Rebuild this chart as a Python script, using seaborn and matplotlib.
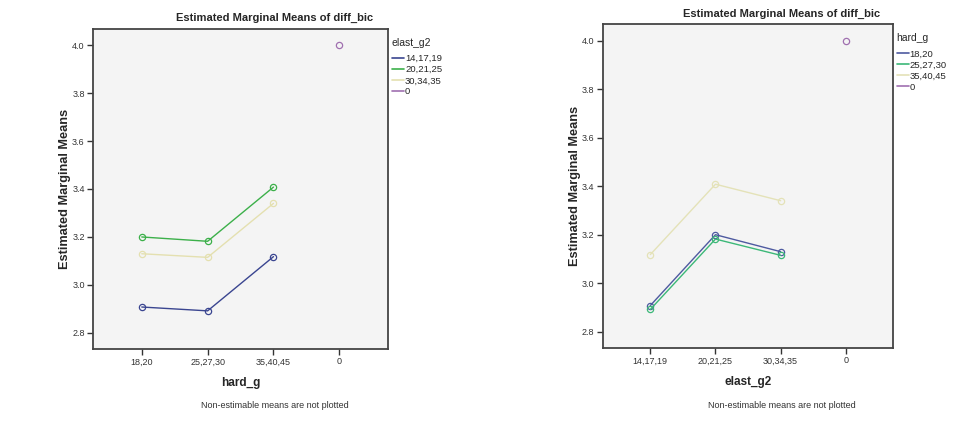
import matplotlib
matplotlib.use("Agg")
import matplotlib.pyplot as plt
from matplotlib.lines import Line2D
import seaborn as sns
import pandas as pd

# ---- data ----
hard_levels = ["18,20", "25,27,30", "35,40,45", "0"]
elast_levels = ["14,17,19", "20,21,25", "30,34,35", "0"]
# rows: hard_g, cols: elast_g2
m_18_20 = [2.908, 3.200, 3.130]
m_25_27_30 = [2.892, 3.182, 3.115]
m_35_40_45 = [3.118, 3.408, 3.340]
m_0_0 = 4.0

left_colors = ["#3a4590", "#3cb04a", "#e4e0b0", "#a070b0"]
right_colors = ["#4e5aa0", "#3cb878", "#e4e2b8", "#a070b0"]

yticks = [2.8, 3.0, 3.2, 3.4, 3.6, 3.8, 4.0]

grid = [m_18_20, m_25_27_30, m_35_40_45]

# left: x = hard_g, hue = elast_g2
rows = []
for j, e in enumerate(elast_levels[:3]):
    for i, h in enumerate(hard_levels[:3]):
        rows.append({"x": h, "y": grid[i][j], "g": e})
rows.append({"x": "0", "y": m_0_0, "g": "0"})
df_left = pd.DataFrame(rows)

rows = []
for i, h in enumerate(hard_levels[:3]):
    for j, e in enumerate(elast_levels[:3]):
        rows.append({"x": e, "y": grid[i][j], "g": h})
rows.append({"x": "0", "y": m_0_0, "g": "0"})
df_right = pd.DataFrame(rows)

sns.set_style("white")
plt.rcParams["font.family"] = ["Liberation Sans", "DejaVu Sans"]

fig = plt.figure(figsize=(9.67, 4.24), dpi=100)
ax1 = fig.add_axes([0.0962, 0.1769, 0.3051, 0.7547])
ax2 = fig.add_axes([0.6233, 0.1792, 0.2999, 0.7635])

narrow = ["Liberation Sans Narrow", "Liberation Sans", "DejaVu Sans"]


def draw(ax, df, levels, hue_levels, colors, xlabel, legtitle, xlim, title_x, title_y,
         leg_anchor, ylab_x):
    pal = dict(zip(hue_levels, colors))
    sns.lineplot(data=df, x="x", y="y", hue="g", hue_order=hue_levels, palette=pal,
                 marker="o", markersize=4.5, linewidth=1.0, sort=False,
                 legend=False, ax=ax)
    for ln in ax.lines:
        ln.set_markerfacecolor("none")
        ln.set_markeredgecolor(ln.get_color())
        ln.set_markeredgewidth(0.9)
    ax.set_facecolor("#f4f4f4")
    ax.set_xlim(*xlim)
    ax.set_ylim(2.733, 4.067)
    ax.set_yticks(yticks)
    ax.set_yticklabels([f"{t:.1f}" for t in yticks], family=narrow, fontsize=6.5, color="#333333")
    ax.set_xticks(range(4))
    ax.set_xticklabels(levels, family=narrow, fontsize=6.5, color="#333333")
    ax.tick_params(axis="both", which="both", direction="out", length=4, width=1,
                   color="#333333", left=True, bottom=True, pad=2)
    for s in ax.spines.values():
        s.set_color("#444444")
        s.set_linewidth(1.3)
    ax.set_xlabel(xlabel, fontsize=8.5, fontweight="bold", labelpad=8)
    ax.set_ylabel("Estimated Marginal Means", fontsize=9.2, fontweight="bold")
    ax.yaxis.set_label_coords(ylab_x, 0.5)
    handles = [Line2D([0], [0], color=c, lw=1.2) for c in colors]
    leg = ax.legend(handles, hue_levels, title=legtitle + "\n", loc="upper left",
                    bbox_to_anchor=leg_anchor, frameon=False, handlelength=1.3,
                    handletextpad=0.1, labelspacing=0.22, borderaxespad=0,
                    prop={"family": narrow, "size": 6.8}, alignment="left")
    leg.get_title().set_fontsize(7.5)
    leg.get_title().set_family(narrow)
    leg.get_title().set_linespacing(0.32)
    fig.text(title_x, title_y, "Estimated Marginal Means of diff_bic", ha="center", va="center",
             fontsize=8, fontweight="bold", family=narrow)


draw(ax1, df_left, hard_levels, elast_levels, left_colors, "hard_g", "elast_g2",
     (-0.74, 3.74), 275 / 967, 1 - 18 / 424, (1.0, 0.985), -0.073)
draw(ax2, df_right, elast_levels, hard_levels, right_colors, "elast_g2", "hard_g",
     (-0.73, 3.72), 782 / 967, 1 - 14 / 424, (1.0, 0.985), -0.075)

fig.text(275 / 967, 1 - 406 / 424, "Non-estimable means are not plotted", ha="center", va="center",
         fontsize=6.5, family=narrow, color="#333333")
fig.text(782 / 967, 1 - 406 / 424, "Non-estimable means are not plotted", ha="center", va="center",
         fontsize=6.5, family=narrow, color="#333333")

fig.savefig("out.png", dpi=100, facecolor="white")
